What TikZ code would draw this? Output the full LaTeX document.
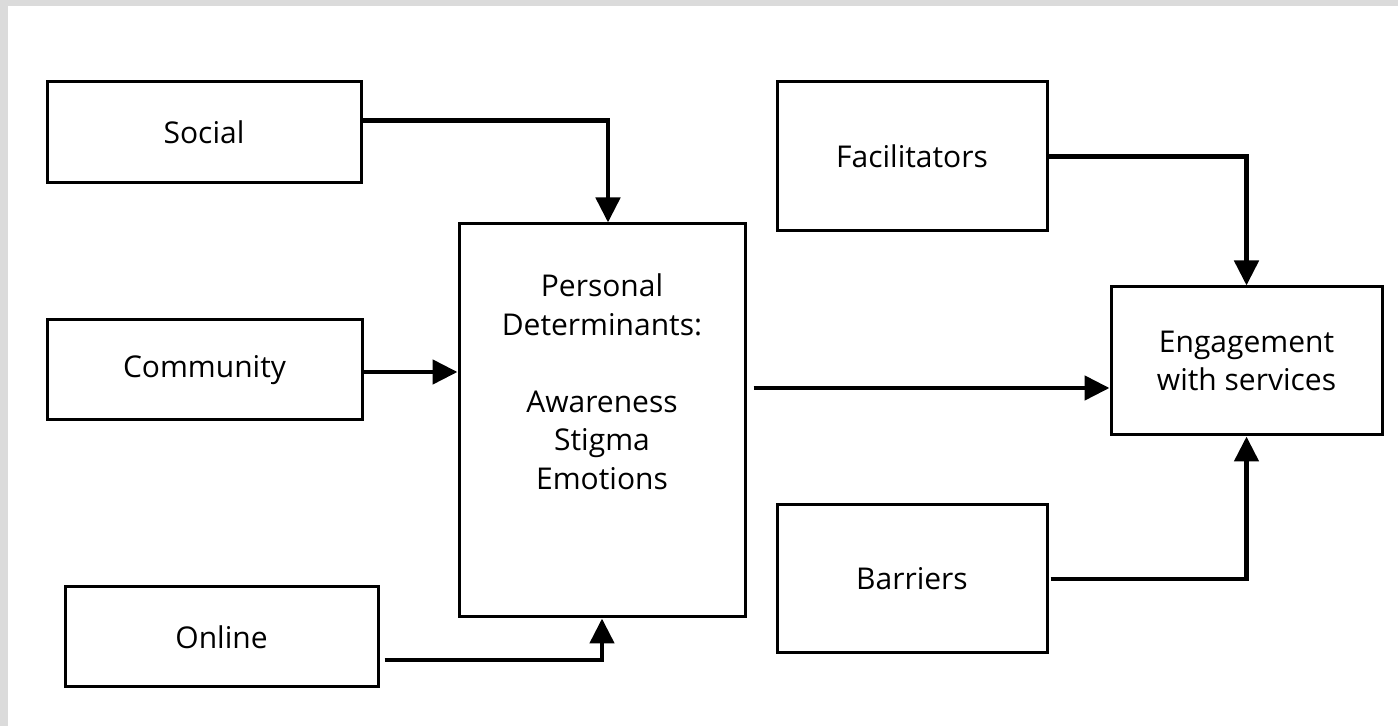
\documentclass[tikz,border=0pt]{standalone}
\usepackage{fontspec}
\setmainfont{Open Sans}
\usetikzlibrary{arrows.meta}

\begin{document}
\begin{tikzpicture}[x=0.5pt, y=-0.5pt, thick,
    box/.style = {draw, line width=1.5pt, rectangle, align=center, inner sep=0pt, font=\fontsize{15}{19.25}\selectfont},
    flow/.style = {line width=2.4pt, -{Triangle[length=12.5pt,width=12pt]}}]
    % page with grey strip top and left
    \fill[gray!28] (0,0) rectangle (1398,726);
    \fill[white] (8,6) rectangle (1398,726);

    \node[box, minimum width=157pt, minimum height=50.5pt] (social) at (204,132.5) {Social};
    \node[box, minimum width=157.5pt, minimum height=50pt] (community) at (204.5,370) {Community};
    \node[box, minimum width=156.5pt, minimum height=50pt] (online) at (221.5,637) {Online};
    \node[box, minimum width=143pt, minimum height=196.5pt] (personal) at (602,420.5) {};
    \node[align=center, anchor=north, inner sep=0pt, font=\fontsize{15}{19.25}\selectfont] (pd_text) at (602,273)
        {Personal\\Determinants:\\[19.25pt]Awareness\\Stigma\\Emotions};
    \node[box, minimum width=135pt, minimum height=74.5pt] (facil) at (912,156.5) {Facilitators};
    \node[box, minimum width=135pt, minimum height=74pt] (barriers) at (912,579) {Barriers};
    \node[box, minimum width=135.5pt, minimum height=74pt] (engage) at (1246.5,361) {Engagement\\with services};

    \draw[flow] ([yshift=6pt]social.east) -| ([xshift=3pt]personal.north);
    \draw[flow] ([yshift=-1pt]community.east) -- ([yshift=-1pt]community.east -| personal.west);
    \draw[flow] ([xshift=2.5pt,yshift=-11.5pt]online.east) -| (personal.south);
    \path (personal.east |- engage.west) ++(3.5pt,-13.5pt) coordinate (pd_out);
    \draw[flow] (pd_out) -- (pd_out -| engage.west);
    \draw[flow] (facil.east) -| (engage.north);
    \draw[flow] ([xshift=1pt]barriers.east) -| (engage.south);
\end{tikzpicture}
\end{document}
